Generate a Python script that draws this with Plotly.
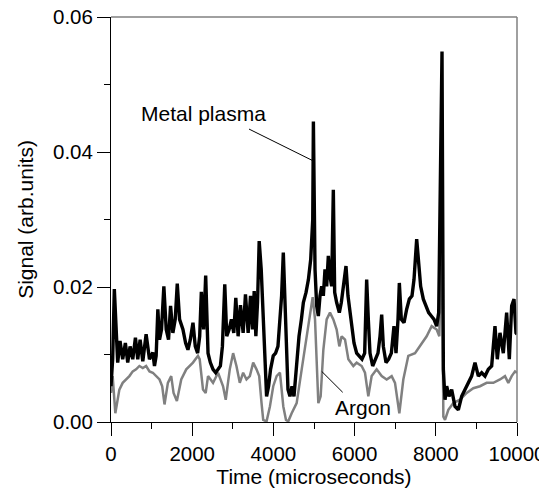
import plotly.graph_objects as go

# Metal plasma signal (black)
metal_t = [0, 41, 82, 124, 165, 222, 288, 354, 412, 470, 536, 602, 659, 717, 783, 865, 948, 1030, 1071, 1112,
           1154, 1195, 1244, 1302, 1360, 1417, 1467, 1524, 1582, 1632, 1689, 1772, 1838, 1895, 1953, 2019, 2076,
           2134, 2184, 2225, 2282, 2332, 2390, 2447, 2513, 2579, 2645, 2694, 2744, 2802, 2851, 2909, 2966, 3024,
           3074, 3131, 3189, 3255, 3312, 3378, 3436, 3486, 3527, 3568, 3609, 3650, 3700, 3749, 3790, 3832, 3881,
           3930, 3996, 4054, 4112, 4161, 4202, 4244, 4285, 4318, 4359, 4408, 4458, 4507, 4573, 4631, 4689, 4738,
           4804, 4862, 4919, 4969, 4985, 5025, 5066, 5107, 5148, 5189, 5230, 5271, 5312, 5353, 5394, 5435, 5476,
           5509, 5558, 5624, 5673, 5722, 5788, 5837, 5887, 5936, 5985, 6051, 6117, 6182, 6248, 6297, 6338, 6379,
           6445, 6511, 6576, 6626, 6667, 6708, 6773, 6839, 6905, 6970, 7020, 7069, 7102, 7151, 7217, 7282, 7348,
           7414, 7463, 7529, 7578, 7627, 7693, 7759, 7824, 7890, 7956, 8021, 8071, 8153, 8186, 8227, 8268, 8325,
           8391, 8473, 8555, 8637, 8719, 8801, 8883, 8965, 9048, 9130, 9212, 9294, 9376, 9458, 9515, 9581, 9663,
           9745, 9811, 9869, 9926, 9975, 10000]
metal_v = [0.0053, 0.0093, 0.0197, 0.0137, 0.0088, 0.0120, 0.0093, 0.0117, 0.0088, 0.0112, 0.0093, 0.0125, 0.0093,
           0.0122, 0.0090, 0.0130, 0.0093, 0.0103, 0.0083, 0.0098, 0.0167, 0.0122, 0.0137, 0.0201, 0.0137, 0.0122,
           0.0172, 0.0132, 0.0152, 0.0205, 0.0152, 0.0137, 0.0117, 0.0107, 0.0122, 0.0147, 0.0112, 0.0102, 0.0127,
           0.0193, 0.0137, 0.0217, 0.0102, 0.0088, 0.0078, 0.0073, 0.0080, 0.0083, 0.0112, 0.0204, 0.0127, 0.0137,
           0.0152, 0.0132, 0.0184, 0.0127, 0.0173, 0.0132, 0.0189, 0.0132, 0.0187, 0.0137, 0.0194, 0.0127, 0.0177,
           0.0268, 0.0226, 0.0152, 0.0083, 0.0038, 0.0053, 0.0078, 0.0098, 0.0102, 0.0112, 0.0152, 0.0187, 0.0251,
           0.0177, 0.0102, 0.0048, 0.0038, 0.0053, 0.0038, 0.0093, 0.0127, 0.0152, 0.0177, 0.0192, 0.0211, 0.0241,
           0.0300, 0.0445, 0.0226, 0.0172, 0.0157, 0.0187, 0.0201, 0.0187, 0.0226, 0.0201, 0.0246, 0.0216, 0.0201,
           0.0344, 0.0192, 0.0177, 0.0162, 0.0177, 0.0201, 0.0231, 0.0187, 0.0162, 0.0137, 0.0117, 0.0102, 0.0098,
           0.0093, 0.0102, 0.0211, 0.0152, 0.0102, 0.0083, 0.0093, 0.0102, 0.0127, 0.0159, 0.0112, 0.0088, 0.0093,
           0.0102, 0.0142, 0.0102, 0.0152, 0.0206, 0.0152, 0.0147, 0.0167, 0.0182, 0.0187, 0.0211, 0.0271, 0.0231,
           0.0201, 0.0182, 0.0172, 0.0162, 0.0157, 0.0152, 0.0142, 0.0162, 0.0549, 0.0078, 0.0033, 0.0053, 0.0038,
           0.0048, 0.0023, 0.0018, 0.0038, 0.0048, 0.0058, 0.0068, 0.0088, 0.0068, 0.0073, 0.0068, 0.0078, 0.0083,
           0.0142, 0.0093, 0.0132, 0.0102, 0.0162, 0.0093, 0.0172, 0.0182, 0.0132, 0.0130]

# Argon signal (gray)
argon_t = [0, 41, 107, 206, 288, 371, 453, 536, 618, 700, 783, 865, 948, 1030, 1112, 1195, 1261, 1318, 1401, 1483,
           1541, 1623, 1730, 1854, 2019, 2142, 2184, 2266, 2332, 2390, 2513, 2637, 2760, 2826, 2925, 3008, 3090,
           3172, 3255, 3337, 3420, 3502, 3584, 3650, 3708, 3749, 3832, 3914, 3996, 4079, 4161, 4244, 4310, 4367,
           4450, 4573, 4697, 4779, 4862, 4919, 4967, 5025, 5066, 5107, 5164, 5230, 5312, 5394, 5476, 5558, 5624,
           5681, 5764, 5846, 5969, 6051, 6174, 6256, 6338, 6420, 6543, 6667, 6790, 6913, 6995, 7102, 7200, 7323,
           7488, 7611, 7775, 7898, 8021, 8087, 8150, 8186, 8227, 8309, 8432, 8596, 8760, 8924, 9089, 9253, 9417,
           9581, 9704, 9786, 9869, 9951, 10000]
argon_v = [0.0043, 0.0068, 0.0013, 0.0048, 0.0058, 0.0063, 0.0068, 0.0075, 0.0078, 0.0083, 0.0080, 0.0083, 0.0075,
           0.0073, 0.0068, 0.0063, 0.0053, 0.0026, 0.0058, 0.0068, 0.0043, 0.0031, 0.0063, 0.0078, 0.0088, 0.0098,
           0.0093, 0.0048, 0.0043, 0.0068, 0.0058, 0.0073, 0.0053, 0.0033, 0.0078, 0.0102, 0.0083, 0.0058, 0.0073,
           0.0063, 0.0068, 0.0088, 0.0078, 0.0068, 0.0028, 0.0003, 0.0001, 0.0023, 0.0053, 0.0068, 0.0073, 0.0023,
           0.0003, 0.0001, 0.0013, 0.0028, 0.0078, 0.0112, 0.0142, 0.0172, 0.0185, 0.0152, 0.0078, 0.0028, 0.0038,
           0.0107, 0.0152, 0.0162, 0.0152, 0.0137, 0.0112, 0.0127, 0.0122, 0.0093, 0.0083, 0.0088, 0.0083, 0.0073,
           0.0038, 0.0068, 0.0078, 0.0068, 0.0063, 0.0068, 0.0058, 0.0013, 0.0063, 0.0098, 0.0102, 0.0112, 0.0127,
           0.0142, 0.0137, 0.0127, 0.0300, 0.0008, 0.0003, 0.0018, 0.0028, 0.0033, 0.0043, 0.0050, 0.0053, 0.0058,
           0.0058, 0.0063, 0.0068, 0.0058, 0.0068, 0.0075, 0.0073]

FONT = "Liberation Sans, Arial, sans-serif"

fig = go.Figure()
fig.add_trace(go.Scatter(x=argon_t, y=argon_v, mode="lines", line=dict(color="#808080", width=2.5),
                         showlegend=False, name="Argon"))
fig.add_trace(go.Scatter(x=metal_t, y=metal_v, mode="lines", line=dict(color="black", width=3.4),
                         showlegend=False, name="Metal plasma"))

# Label leader lines
fig.add_shape(type="line", xref="x", yref="y", x0=3399, y0=0.0434, x1=4975, y1=0.0387,
              line=dict(color="black", width=1))
fig.add_shape(type="line", xref="x", yref="y", x0=5190, y0=0.0075, x1=5707, y1=0.0044,
              line=dict(color="black", width=1))
# gray top and right frame
fig.add_shape(type="line", xref="paper", yref="paper", x0=0, y0=1, x1=1, y1=1,
              line=dict(color="#808080", width=1.5))
fig.add_shape(type="line", xref="paper", yref="paper", x0=1, y0=0, x1=1, y1=1,
              line=dict(color="#808080", width=1.5))

fig.add_annotation(x=2266, y=0.0457, xref="x", yref="y", text="Metal plasma", showarrow=False,
                   font=dict(size=21, color="black", family=FONT))
fig.add_annotation(x=6195, y=0.0022, xref="x", yref="y", text="Argon", showarrow=False,
                   font=dict(size=21, color="black", family=FONT))

fig.update_layout(
    width=539, height=485,
    margin=dict(l=103, r=30, t=9, b=71),
    paper_bgcolor="white", plot_bgcolor="white",
    font=dict(family=FONT, size=21, color="black"),
    xaxis=dict(range=[0, 10000], dtick=2000, tick0=0, tickformat="d", ticks="outside", ticklen=13,
               tickwidth=1, automargin=False, ticklabeloverflow="allow",
               tickcolor="black", showline=True, linecolor="black", linewidth=1, showgrid=False,
               zeroline=False, tickfont=dict(size=20.5),
               minor=dict(dtick=1000, ticks="outside", ticklen=6, tickcolor="black", showgrid=False),
               title=dict(text="Time (microseconds)", font=dict(size=21), standoff=4)),
    yaxis=dict(range=[0, 0.06], dtick=0.02, tick0=0, tickformat=".2f", ticks="outside", ticklen=13,
               tickwidth=1, automargin=False, ticklabeloverflow="allow", tickcolor="black",
               showline=True, linecolor="black",
               linewidth=1, showgrid=False, zeroline=False, tickfont=dict(size=20.5),
               minor=dict(dtick=0.01, ticks="outside", ticklen=6, tickcolor="black", showgrid=False),
               title=dict(text="Signal (arb.units)", font=dict(size=21), standoff=13)),
)

fig.write_html("out.html")
